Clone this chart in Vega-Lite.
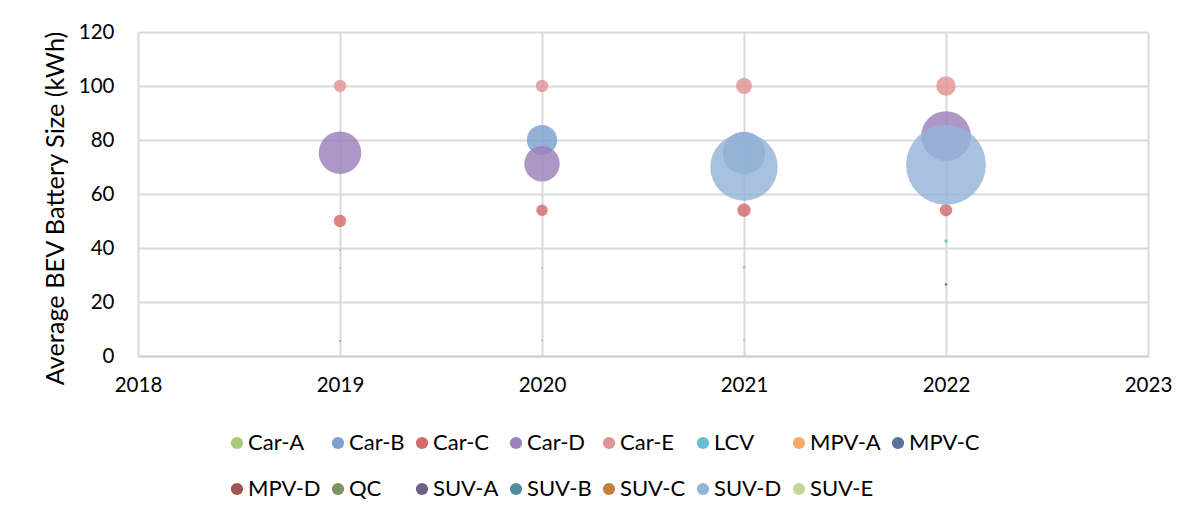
{
  "$schema": "https://vega.github.io/schema/vega-lite/v6.json",
  "width": 1010,
  "height": 324,
  "autosize": {"type": "none"},
  "padding": {"left": 138, "top": 32, "right": 53, "bottom": 163},
  "background": "white",
  "config": {
    "font": "Lato",
    "view": {"stroke": null},
    "axis": {"gridColor": "#d9d9d9", "gridWidth": 2, "ticks": false, "labelColor": "#000000", "titleColor": "#000000", "labelFont": "Lato", "titleFont": "Lato", "titleFontWeight": "normal"}
  },
  "data": {
    "values": [
      {"year": 2019, "segment": "Car-B", "battery": 39.3, "sales": 100},
      {"year": 2019, "segment": "Car-C", "battery": 50, "sales": 4900},
      {"year": 2019, "segment": "Car-D", "battery": 75.3, "sales": 57600},
      {"year": 2019, "segment": "Car-E", "battery": 100, "sales": 4900},
      {"year": 2019, "segment": "LCV", "battery": 32.6, "sales": 100},
      {"year": 2019, "segment": "QC", "battery": 5.6, "sales": 100},
      {"year": 2020, "segment": "Car-B", "battery": 80, "sales": 28900},
      {"year": 2020, "segment": "Car-C", "battery": 54, "sales": 4225},
      {"year": 2020, "segment": "Car-D", "battery": 71.2, "sales": 40000},
      {"year": 2020, "segment": "Car-E", "battery": 100, "sales": 4900},
      {"year": 2020, "segment": "LCV", "battery": 32.6, "sales": 100},
      {"year": 2020, "segment": "QC", "battery": 5.8, "sales": 64},
      {"year": 2021, "segment": "Car-B", "battery": 75.2, "sales": 57600},
      {"year": 2021, "segment": "Car-C", "battery": 54, "sales": 5625},
      {"year": 2021, "segment": "Car-E", "battery": 100, "sales": 8100},
      {"year": 2021, "segment": "LCV", "battery": 32.8, "sales": 225},
      {"year": 2021, "segment": "QC", "battery": 5.8, "sales": 64},
      {"year": 2021, "segment": "SUV-D", "battery": 70, "sales": 144400},
      {"year": 2022, "segment": "Car-C", "battery": 54, "sales": 4900},
      {"year": 2022, "segment": "Car-D", "battery": 81.5, "sales": 78400},
      {"year": 2022, "segment": "Car-E", "battery": 100, "sales": 12100},
      {"year": 2022, "segment": "LCV", "battery": 42.6, "sales": 400},
      {"year": 2022, "segment": "SUV-A", "battery": 26.5, "sales": 225},
      {"year": 2022, "segment": "SUV-D", "battery": 70.8, "sales": 202500}
    ]
  },
  "mark": {"type": "circle", "opacity": 0.82, "stroke": null},
  "encoding": {
    "x": {
      "field": "year", "type": "quantitative",
      "scale": {"domain": [2018, 2023], "nice": false, "zero": false},
      "axis": {"title": null, "values": [2018, 2019, 2020, 2021, 2022, 2023], "format": "d", "labelFontSize": 20.5, "labelPadding": 19, "labelFlush": false, "domainColor": "#cfcfcf", "domainWidth": 2, "grid": true}
    },
    "y": {
      "field": "battery", "type": "quantitative",
      "scale": {"domain": [0, 120], "nice": false},
      "axis": {"title": "Average BEV Battery Size (kWh)", "values": [0, 20, 40, 60, 80, 100, 120], "labelFontSize": 20.5, "labelPadding": 24, "titleFontSize": 25.3, "titlePadding": 10, "titleY": 176, "domain": false, "grid": true}
    },
    "size": {
      "field": "sales", "type": "quantitative",
      "scale": {"domain": [0, 202500], "range": [0, 6362], "zero": true},
      "legend": null
    },
    "color": {
      "field": "segment", "type": "nominal",
      "scale": {
        "domain": ["Car-A", "Car-B", "Car-C", "Car-D", "Car-E", "LCV", "MPV-A", "MPV-C", "MPV-D", "QC", "SUV-A", "SUV-B", "SUV-C", "SUV-D", "SUV-E"],
        "range": ["#a9c97a", "#7da0d0", "#d46a6a", "#9b80ba", "#e09494", "#6abed3", "#f9a96a", "#5a7498", "#9a5555", "#7e9460", "#6f5e8a", "#4f8e9c", "#c47f3c", "#95b3d7", "#c3d69b"]
      },
      "legend": {
        "title": null, "orient": "none", "legendX": 88, "legendY": 400,
        "direction": "horizontal", "columns": 8,
        "symbolType": "circle", "symbolSize": 150, "symbolOpacity": 1, "symbolStrokeWidth": 0,
        "labelFontSize": 22, "labelFont": "Lato", "labelColor": "#000000", "labelOffset": 0, "labelLimit": 200,
        "columnPadding": 6, "rowPadding": 24
      }
    }
  }
}
